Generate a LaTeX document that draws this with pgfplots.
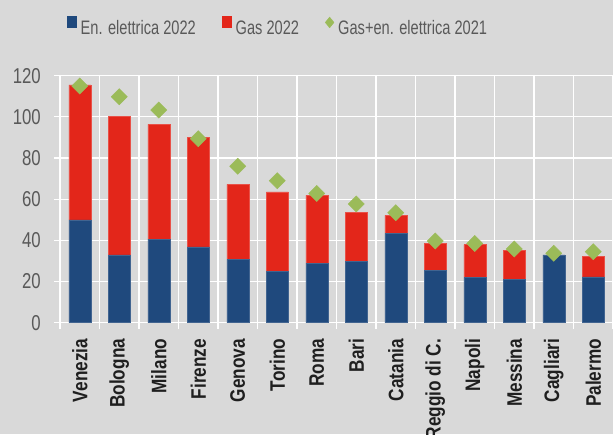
\documentclass[border=0pt]{standalone}
\usepackage{pgfplots}
\pgfplotsset{compat=1.18}
\usepackage{pgfplotstable}
\usepackage{fontspec}
\setmainfont{Liberation Sans}[FakeStretch=0.78]
\newfontfamily\catfont{Liberation Sans}[FakeStretch=0.82]
\newfontfamily\legfont{Liberation Sans}[FakeStretch=0.75]

\definecolor{bg}{HTML}{D9D9D9}
\definecolor{elblue}{HTML}{1F497D}
\definecolor{gasred}{HTML}{E3261A}
\definecolor{green21}{HTML}{9BBB59}
\definecolor{txt}{HTML}{595959}
\definecolor{cattxt}{HTML}{1F1F1F}

% el = electricity 2022, gas = gas 2022, tot = gas + electricity 2021
\pgfplotstableread{
idx el   gas  tot
0   50.0 65.6 115.0
1   33.0 67.1 109.8
2   40.6 55.8 103.3
3   36.8 53.4 89.4
4   30.6 36.6 76.0
5   24.8 38.7 69.0
6   29.0 32.9 62.8
7   29.8 23.8 57.7
8   43.4 8.7  53.4
9   25.4 13.3 39.7
10  21.9 16.0 38.5
11  21.2 13.8 35.8
12  33.0 0.0  33.7
13  22.3 9.9  34.5
}\costs

\pgfplotsset{
  frame/.style={
    scale only axis,
    width=553pt, height=247pt,
    at={(60pt,111.3pt)}, anchor=south west,
    xmin=-0.5, xmax=13.5, ymin=0, ymax=120,
  },
}

\begin{document}
\begin{tikzpicture}
\useasboundingbox (0,0) rectangle (613pt,434pt);
\fill[bg] (0,0) rectangle (613pt,434pt);
\clip (0,0) rectangle (613pt,434pt);

\begin{axis}[
  frame,
  ybar stacked, bar width=22pt,
  axis x line*=bottom, axis y line*=left,
  axis line style={white, line width=1.3pt, -},
  ytick={0,20,...,120},
  ymajorgrids,
  major grid style={white, line width=1.2pt},
  minor grid style={white, line width=1.2pt},
  xtick={0,...,13},
  xticklabels={Venezia,Bologna,Milano,Firenze,Genova,Torino,Roma,Bari,Catania,Reggio di C.,Napoli,Messina,Cagliari,Palermo},
  minor xtick={-0.5,0.5,...,13.5},
  xminorgrids,
  tick align=outside,
  major tick length=6pt, minor tick length=6pt,
  major x tick style={draw=none},
  major y tick style={white, line width=1.2pt},
  minor x tick style={white, line width=1.2pt},
  /pgf/number format/assume math mode=true,
  yticklabel style={font=\fontsize{21.5}{24}\selectfont, text=txt, inner sep=0pt},
  yticklabel shift=13pt,
  xticklabel style={font=\catfont\bfseries\fontsize{21}{24}\selectfont, text=cattxt,
    rotate=90, anchor=east, inner sep=0pt},
  xticklabel shift=10pt,
  legend columns=-1,
  legend style={
    draw=none, fill=none, inner sep=0pt,
    at={(axis description cs:0.0121,1.2004)}, anchor=west,
    font=\legfont\fontsize{19.5}{22}\selectfont, text=txt,
    nodes={inner sep=0pt},
    /tikz/every odd column/.append style={column sep=4pt},
    /tikz/every even column/.append style={column sep=26pt},
  },
]
\addplot[fill=elblue, draw=elblue!85!white, line width=0.5pt,
  legend image code/.code={\fill[elblue] (0pt,1.3pt) rectangle (9.3pt,12pt);}]
  table[x=idx, y=el] {\costs};
\addlegendentry{En. elettrica 2022}
\addplot[fill=gasred, draw=gasred!80!white, line width=0.5pt,
  legend image code/.code={\fill[gasred] (0pt,1.3pt) rectangle (9.3pt,12pt);}]
  table[x=idx, y=gas] {\costs};
\addlegendentry{Gas 2022}
\addlegendimage{legend image code/.code={\fill[green21] (4.35pt,0.6pt) -- (8.7pt,6pt) -- (4.35pt,11.3pt) -- (0pt,6pt) -- cycle;}}
\addlegendentry{Gas+en. elettrica 2021}
\end{axis}

\begin{axis}[frame, hide axis, clip=false]
\addplot[only marks, mark=square*, mark size=5.7pt,
  mark options={rotate=45, fill=green21, draw=green21}]
  table[x=idx, y=tot] {\costs};
\end{axis}
\end{tikzpicture}
\end{document}
